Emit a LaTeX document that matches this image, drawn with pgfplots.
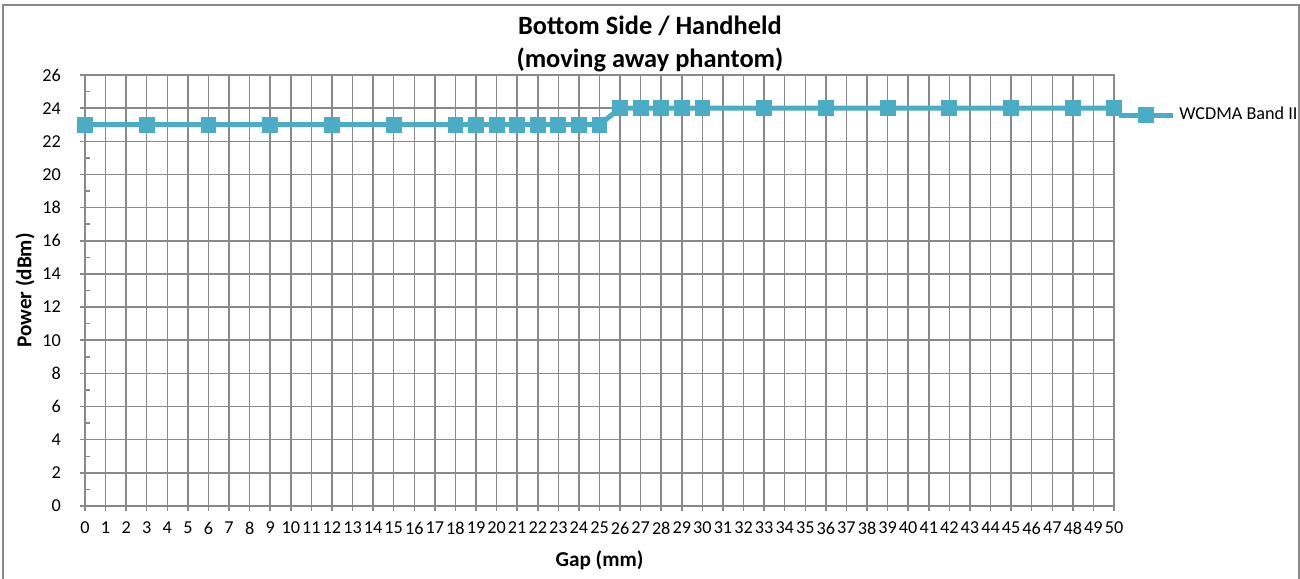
\documentclass[border=0pt]{standalone}
\usepackage{fontspec}
\setmainfont{Carlito}
\usepackage{pgfplots}
\pgfplotsset{compat=1.18}
\definecolor{series}{HTML}{4BACC6}
\definecolor{gridgray}{HTML}{898989}

\begin{document}
\begin{tikzpicture}
\path[use as bounding box] (-42.5pt,-36pt) rectangle (607.5pt,253pt);
\draw[gridgray, line width=0.9pt] (-41pt,-37pt) rectangle (607pt,250.5pt);
\begin{axis}[
  scale only axis, width=514.5pt, height=215.5pt,
  xmin=0, xmax=50, ymin=0, ymax=26,
  xtick distance=1, ytick distance=2,
  minor y tick num=1,
  grid=major,
  major grid style={gridgray, line width=0.75pt},
  axis line style={gridgray, line width=0.75pt},
  tick style={gridgray, line width=0.75pt},
  tick align=outside, major tick length=2.5pt, minor tick length=2.5pt,
  minor y tick style={xshift=2.5pt},
  xtick pos=bottom, ytick pos=left,
  /pgf/number format/assume math mode=true,
  ticklabel style={font=\fontsize{9.1}{10}\selectfont, text=black},
  xticklabel style={yshift=-2pt},
  yticklabel style={xshift=-6pt},
  title={Bottom Side / Handheld\\(moving away phantom)},
  title style={at={(axis description cs:0.549,1.081)}, anchor=center, align=center,
    yshift=-8pt, font=\bfseries\fontsize{13.2}{16.5}\selectfont},
  xlabel={Gap (mm)},
  xlabel style={at={(axis description cs:0.5,-0.125)}, anchor=center,
    font=\bfseries\fontsize{10.6}{12}\selectfont},
  ylabel={Power (dBm)},
  ylabel style={at={(axis description cs:-0.0583,0.5)}, anchor=center,
    font=\bfseries\fontsize{10.6}{12}\selectfont},
  legend style={draw=none, fill=none, at={(axis description cs:1.0,0.907)}, anchor=west,
    font=\fontsize{9.1}{10}\selectfont, inner sep=1pt},
  legend image code/.code={\draw[mark repeat=2, mark phase=2] plot coordinates {(0pt,0pt) (13.5pt,0pt) (27pt,0pt)};},
]
\addplot[series, line width=2.5pt, mark=square*, mark size=3.7pt,
  mark options={line width=0pt, rounded corners=1pt}]
  coordinates {(0,23)(3,23)(6,23)(9,23)(12,23)(15,23)(18,23)(19,23)(20,23)(21,23)(22,23)(23,23)(24,23)(25,23)
  (26,24)(27,24)(28,24)(29,24)(30,24)(33,24)(36,24)(39,24)(42,24)(45,24)(48,24)(50,24)};
\addlegendentry{WCDMA Band II}
\end{axis}
\end{tikzpicture}
\end{document}
